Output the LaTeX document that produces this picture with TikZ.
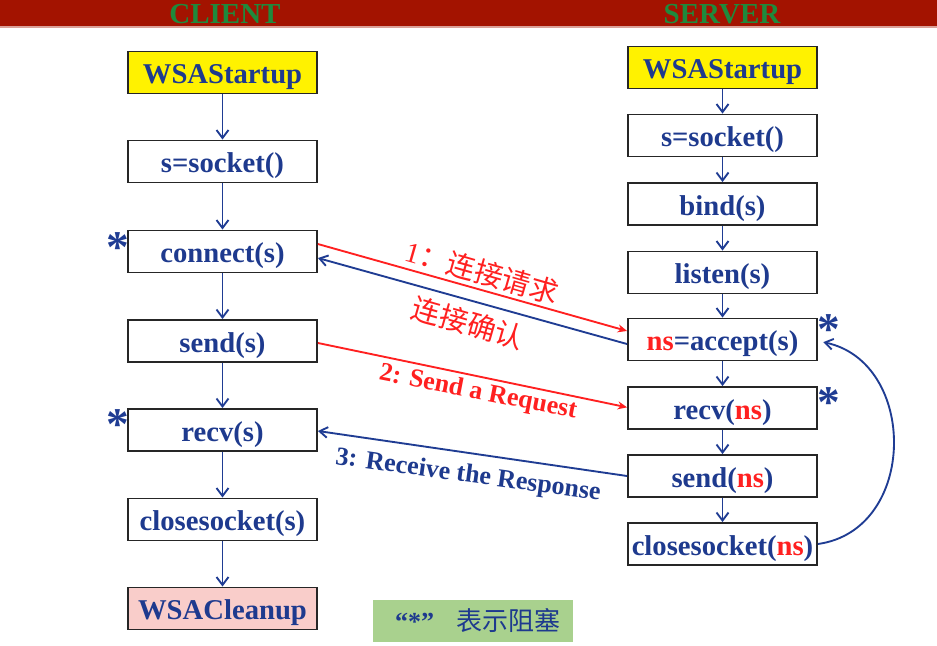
\documentclass[tikz,border=0pt]{standalone}
\usepackage{fontspec}
\setmainfont{Liberation Serif}
\newfontfamily\cjk{Noto Sans CJK SC}
\usetikzlibrary{arrows.meta,calc}
\definecolor{navy}{HTML}{1F3C93}
\definecolor{txtblue}{HTML}{1E3A8E}
\definecolor{redline}{HTML}{FF2020}
\definecolor{banner}{HTML}{A31300}
\definecolor{titlegreen}{HTML}{1F8A3C}
\definecolor{boxyellow}{HTML}{FFF200}
\definecolor{boxpink}{HTML}{F9CDCA}
\definecolor{legendgreen}{HTML}{A9D18E}
\begin{document}
\begin{tikzpicture}[x=0.75pt,y=-0.75pt,
  fbox/.style={draw=black!85,line width=1.4pt,fill=white,minimum width=141.75pt,minimum height=31.5pt,inner sep=0pt,
    font=\fontsize{21.5}{24}\selectfont\bfseries,text=txtblue,text height=17pt,text depth=0pt},
  flow/.style={draw=navy,line width=1.4pt,-{Straight Barb[length=6pt,width=9pt,line width=1.4pt]}},
  redarr/.style={draw=redline,line width=1.4pt,-{Stealth[length=7pt,width=6pt]}},
  bluearr/.style={draw=navy,line width=1.4pt,-{Straight Barb[length=6pt,width=8pt,line width=1.4pt]}},
  star/.style={text=navy,font=\fontsize{34}{34}\selectfont\bfseries,inner sep=0pt},
  ttl/.style={text=titlegreen,font=\fontsize{21.75}{24}\selectfont\bfseries},
  lbl/.style={font=\fontsize{19.5}{22}\selectfont\bfseries,inner sep=0pt},
  cjklbl/.style={font=\fontsize{21.5}{24}\selectfont,inner sep=0pt}
]
\useasboundingbox (0,0) rectangle (937,645);
\fill[white] (0,0) rectangle (937,645);
\fill[banner] (0,0) rectangle (937,26);
\fill[banner!40] (0,26) rectangle (937,28);
\node[ttl] (tclient) at (225,14) {CLIENT};
\node[ttl] (tserver) at (722,14) {SERVER};

% client column
\node[fbox,fill=boxyellow] (cwsa) at (222.5,72.5) {WSAStartup};
\node[fbox] (csock) at (222.5,161.5) {s=socket()};
\node[fbox] (cconn) at (222.5,251.5) {connect(s)};
\node[fbox] (csend) at (222.5,341) {send(s)};
\node[fbox] (crecv) at (222.5,430) {recv(s)};
\node[fbox] (cclose) at (222.5,519.5) {closesocket(s)};
\node[fbox,fill=boxpink] (cclean) at (222.5,608.5) {WSACleanup};

% server column
\node[fbox,fill=boxyellow] (swsa) at (722.5,67.5) {WSAStartup};
\node[fbox] (ssock) at (722.5,135.5) {s=socket()};
\node[fbox] (sbind) at (722.5,204) {bind(s)};
\node[fbox] (slisten) at (722.5,272.5) {listen(s)};
\node[fbox] (saccept) at (722.5,339.5) {\textcolor{redline}{ns}=accept(s)};
\node[fbox] (srecv) at (722.5,408) {recv(\textcolor{redline}{ns})};
\node[fbox] (ssend) at (722.5,476) {send(\textcolor{redline}{ns})};
\node[fbox] (sclose) at (722.5,544) {closesocket(\textcolor{redline}{ns})};

% vertical flows
\foreach \a/\b in {cwsa/csock,csock/cconn,cconn/csend,csend/crecv,crecv/cclose,cclose/cclean,
  swsa/ssock,ssock/sbind,sbind/slisten,slisten/saccept,saccept/srecv,srecv/ssend,ssend/sclose}
  \draw[flow] (\a.south) -- (\b.north);

% cross connectors
\draw[redarr] ([yshift=5.6pt]cconn.east) -- ([yshift=6.4pt]saccept.west);
\draw[bluearr] ([yshift=-3.4pt]saccept.west) -- ([yshift=-4.9pt]cconn.east);
\draw[redarr] ([yshift=-1.5pt]csend.east) -- ([yshift=0.5pt]srecv.west);
\draw[bluearr] (ssend.west) -- ([yshift=-0.75pt]crecv.east);

% loop back
\draw[bluearr] (sclose.east) .. controls (918,530) and (918,362) .. ([xshift=4pt,yshift=-2pt]saccept.east);

% labels
\node[cjklbl,text=redline,rotate=-16] (l1) at (482,272) {1{\cjk ：连接请求}};
\node[cjklbl,text=redline,rotate=-16] (l2) at (468,323) {\cjk 连接确认};
\node[lbl,text=redline,rotate=-11] (l3) at (478,393) {2: Send a Request};
\node[lbl,text=txtblue,rotate=-7.8] (l4) at (468,476) {3: Receive the Response};

% stars
\node[star] (st1) at (118,248) {*};
\node[star] (st2) at (118,425) {*};
\node[star] (st3) at (829,330) {*};
\node[star] (st4) at (829,403) {*};

% legend
\node[fill=legendgreen,minimum width=150pt,minimum height=31pt,inner sep=0pt,text=txtblue,
  font=\fontsize{19.5}{22}\selectfont] (legend) at (472.5,621) {\hspace*{8pt}\textbf{“*”}\hspace{17pt}{\cjk 表示阻塞}};
\end{tikzpicture}
\end{document}
